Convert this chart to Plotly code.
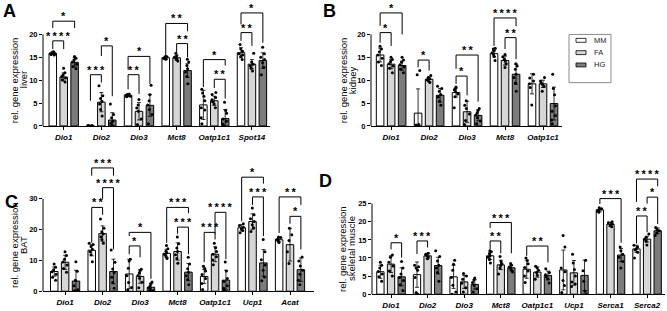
import plotly.graph_objects as go

# ---------------- DATA ----------------
groups = ["MM", "FA", "HG"]

genes_A = ["Dio1", "Dio2", "Dio3", "Mct8", "Oatp1c1", "Spot14"]
A_MM_mean = [15.9, 0.05, 6.7, 14.9, 4.6, 16.0]
A_MM_sd = [0.3, 0.05, 0.3, 0.3, 3.2, 1.1]
A_FA_mean = [10.7, 5.2, 3.2, 14.9, 5.5, 13.5]
A_FA_sd = [0.9, 2.1, 1.9, 0.6, 1.0, 1.0]
A_HG_mean = [13.9, 1.3, 4.5, 12.1, 1.6, 14.3]
A_HG_sd = [1.0, 1.6, 2.4, 1.5, 2.0, 1.7]
A_MM_pts = [[15.6, 15.8, 16.0, 16.2, 15.7, 15.9, 16.1, 15.5], [0, 0, 0, 0.1, 0, 0.1],
            [6.4, 6.6, 6.8, 7.0, 6.5, 6.9, 6.7], [14.6, 14.8, 15.0, 15.2, 14.7, 15.1, 14.9],
            [0.5, 1.8, 4.0, 5.5, 6.5, 7.2, 8.0, 3.5], [14.5, 15.2, 15.8, 16.3, 16.8, 17.8, 15.5]]
A_FA_pts = [[9.6, 10.1, 10.5, 10.8, 11.2, 11.6, 12.6], [2.2, 3.6, 4.8, 5.4, 6.0, 6.6, 8.8],
            [0.3, 1.5, 3.2, 4.6, 5.8, 3.9], [14.2, 14.6, 15.0, 15.3, 15.9, 14.8],
            [4.0, 4.8, 5.3, 5.7, 6.2, 6.9, 7.3], [12.0, 12.6, 13.1, 13.5, 14.0, 15.9]]
A_HG_pts = [[12.5, 13.0, 13.5, 14.0, 14.4, 14.8, 15.2], [0, 0.2, 0.6, 1.0, 1.8, 2.5, 4.8],
            [0.5, 2.5, 3.6, 4.6, 5.5, 6.8, 8.9], [9.2, 10.8, 11.8, 12.5, 13.2, 14.0, 14.6],
            [0, 0.4, 1.0, 1.5, 2.8, 3.4, 5.2], [11.2, 12.8, 13.8, 14.5, 15.0, 15.8, 17.2]]
# (gene, group1, group2, line level, left leg end, right leg end, stars)
A_brackets = [(0, 0, 2, 22.9, 21.4, 21.4, "*"), (0, 0, 1, 18.6, 16.8, 16.8, "****"),
              (1, 1, 2, 17.5, 15.3, 6.5, "*"), (1, 0, 1, 11.2, 5.5, 9.5, "***"),
              (2, 0, 2, 15.2, 12.3, 9.2, "*"), (2, 0, 1, 11.2, 8.0, 7.0, "**"),
              (3, 0, 2, 22.4, 15.3, 20.7, "**"), (3, 1, 2, 18.0, 16.1, 15.0, "**"),
              (4, 0, 2, 14.5, 8.5, 13.2, "*"), (4, 1, 2, 10.2, 8.3, 6.0, "**"),
              (5, 0, 2, 24.7, 22.2, 18.2, "*"), (5, 0, 1, 20.4, 18.6, 17.5, "**")]

genes_B = ["Dio1", "Dio2", "Dio3", "Mct8", "Oatp1c1"]
B_MM_mean = [15.5, 2.8, 7.3, 15.8, 9.2]
B_MM_sd = [1.5, 5.3, 1.0, 0.7, 2.2]
B_FA_mean = [13.5, 10.2, 3.1, 14.3, 9.2]
B_FA_sd = [1.0, 0.5, 2.3, 1.0, 0.8]
B_HG_mean = [13.2, 6.7, 2.3, 11.3, 4.9]
B_HG_sd = [1.0, 1.5, 1.2, 2.2, 3.6]
B_MM_pts = [[13.2, 14.0, 14.8, 15.5, 16.2, 16.8, 17.4], [0, 0, 0.2, 0.3, 11.2, 12.1],
            [4.0, 6.4, 7.0, 7.5, 7.9, 8.2, 8.5], [14.3, 15.2, 15.6, 16.0, 16.4, 16.8, 17.0],
            [4.6, 8.4, 9.2, 9.8, 10.5, 11.3]]
B_FA_pts = [[11.6, 12.6, 13.1, 13.6, 14.1, 14.5, 15.0], [9.5, 9.8, 10.1, 10.3, 10.6, 11.0],
            [0.3, 1.2, 2.6, 3.8, 4.5, 5.5], [12.8, 13.6, 14.2, 14.6, 15.1, 15.6],
            [7.6, 8.6, 9.0, 9.4, 9.8, 10.6]]
B_HG_pts = [[11.6, 12.4, 12.9, 13.4, 13.9, 14.4, 15.0], [4.5, 5.4, 6.3, 6.9, 7.6, 8.2, 8.7],
            [0.5, 1.1, 1.8, 2.4, 2.9, 3.4, 3.8], [7.6, 9.4, 10.6, 11.3, 12.4, 13.1, 13.6],
            [0.5, 1.3, 2.3, 3.2, 4.4, 6.8, 8.2, 11.3]]
B_brackets = [(0, 0, 2, 24.7, 21.9, 20.0, "*"), (0, 0, 1, 20.4, 18.2, 17.5, "*"),
              (1, 0, 1, 14.4, 12.8, 12.1, "*"), (2, 0, 2, 15.5, 12.5, 5.3, "**"),
              (2, 0, 1, 10.9, 9.2, 6.7, "*"), (3, 0, 2, 23.6, 17.5, 21.8, "****"),
              (3, 1, 2, 19.3, 16.8, 14.6, "**")]

genes_C = ["Dio1", "Dio2", "Dio3", "Mct8", "Oatp1c1", "Ucp1", "Acat"]
C_MM_mean = [6.4, 13.3, 5.6, 12.3, 4.8, 20.6, 16.7]
C_MM_sd = [1.5, 1.8, 4.8, 1.3, 2.3, 1.0, 0.7]
C_FA_mean = [9.4, 18.7, 4.8, 12.9, 12.0, 22.6, 15.1]
C_FA_sd = [2.3, 2.5, 2.2, 2.8, 2.4, 2.5, 5.3]
C_HG_mean = [3.3, 6.4, 1.3, 6.2, 3.6, 9.2, 7.0]
C_HG_sd = [3.5, 4.0, 1.2, 2.8, 3.2, 4.3, 3.8]
C_MM_pts = [[3.6, 4.5, 5.5, 6.3, 7.0, 7.8, 8.8], [9.6, 11.8, 12.8, 13.6, 14.5, 15.2, 15.6],
            [0.5, 1.2, 2.8, 5.0, 7.5, 9.8, 10.4], [10.6, 11.3, 11.9, 12.5, 13.0, 13.8, 14.8],
            [0.6, 2.5, 4.1, 5.4, 6.6, 7.4, 8.1], [19.0, 19.7, 20.3, 20.8, 21.3, 21.9],
            [15.8, 16.3, 16.7, 17.0, 17.4, 17.6]]
C_FA_pts = [[6.2, 7.4, 8.5, 9.5, 10.4, 11.6, 12.8], [15.6, 16.8, 17.7, 18.6, 19.3, 20.4, 23.4],
            [1.1, 2.9, 4.2, 5.1, 5.9, 6.6, 7.1], [9.1, 10.6, 11.8, 12.9, 14.0, 15.4, 17.6],
            [8.6, 10.1, 11.2, 12.0, 12.9, 14.1, 15.6], [19.4, 20.6, 21.6, 22.6, 23.5, 24.8, 27.0],
            [9.0, 12.8, 16.5, 18.3, 20.4]]
C_HG_pts = [[0, 0.2, 0.5, 1.8, 3.6, 6.5, 9.6], [1.0, 2.8, 4.5, 6.0, 7.2, 9.4, 13.4],
            [0, 0.2, 0.6, 1.1, 1.8, 2.5, 3.0], [2.1, 3.8, 5.0, 6.2, 7.3, 8.8, 11.0],
            [0.4, 1.0, 1.8, 3.2, 4.1, 6.6, 9.5], [3.4, 4.6, 6.8, 8.5, 10.2, 12.8, 16.8],
            [2.1, 3.6, 5.5, 6.8, 8.2, 9.8, 11.1]]
C_brackets = [(1, 0, 2, 40.0, 37.5, 37.5, "***"), (1, 1, 2, 33.6, 30.0, 13.6, "****"),
              (1, 0, 1, 27.2, 15.7, 24.8, "**"), (2, 0, 2, 19.1, 17.9, 4.0, "*"),
              (2, 0, 1, 14.7, 12.0, 11.0, "*"), (3, 0, 2, 27.2, 15.7, 25.3, "***"),
              (3, 1, 2, 20.8, 18.7, 12.0, "***"), (4, 0, 1, 19.1, 9.4, 16.8, "***"),
              (4, 1, 2, 25.6, 18.7, 10.4, "****"), (5, 0, 2, 37.0, 22.7, 34.9, "*"),
              (5, 1, 2, 30.6, 28.0, 17.9, "***"), (6, 0, 2, 30.6, 18.9, 28.0, "**"),
              (6, 1, 2, 24.3, 21.9, 13.6, "*")]

genes_D = ["Dio1", "Dio2", "Dio3", "Mct8", "Oatp1c1", "Ucp1", "Serca1", "Serca2"]
D_MM_mean = [6.2, 5.4, 4.8, 10.6, 6.9, 6.7, 23.3, 12.5]
D_MM_sd = [1.8, 3.5, 3.2, 1.0, 2.5, 5.5, 0.4, 1.0]
D_FA_mean = [8.3, 10.6, 3.4, 8.1, 6.1, 5.9, 19.3, 15.2]
D_FA_sd = [2.3, 0.7, 1.8, 1.3, 1.4, 3.4, 0.6, 0.8]
D_HG_mean = [4.8, 7.9, 2.7, 7.3, 5.2, 5.2, 10.8, 17.5]
D_HG_sd = [2.5, 2.3, 1.3, 0.8, 1.2, 4.2, 1.8, 0.8]
D_MM_pts = [[3.6, 4.8, 5.6, 6.3, 7.2, 8.0, 8.8], [0, 0.5, 4.6, 6.6, 7.2, 7.6, 8.0],
            [0, 0.6, 2.5, 4.6, 6.6, 8.3, 9.4], [8.6, 9.6, 10.2, 10.7, 11.2, 11.7, 12.0],
            [3.2, 5.0, 6.4, 7.4, 8.4, 9.3, 10.0], [0.5, 2.4, 3.8, 6.2, 7.2, 13.0, 16.2],
            [22.6, 23.0, 23.3, 23.6, 23.9], [10.0, 11.6, 12.2, 12.6, 13.0, 13.5]]
D_FA_pts = [[5.0, 6.4, 7.8, 8.8, 10.2, 10.8], [9.8, 10.3, 10.6, 11.0, 11.3],
            [0.6, 1.8, 3.0, 4.1, 5.0, 5.7], [5.6, 7.2, 7.9, 8.4, 9.0, 10.4],
            [4.1, 5.2, 6.0, 6.6, 7.3, 7.7], [2.1, 2.8, 3.4, 5.0, 6.8, 8.6, 11.0],
            [18.6, 19.0, 19.4, 19.7, 20.0], [13.6, 14.6, 15.2, 15.7, 16.6]]
D_HG_pts = [[1.0, 2.6, 3.8, 4.6, 5.6, 7.2, 9.0], [3.6, 6.0, 7.2, 8.0, 9.2, 10.4, 12.0],
            [0.6, 1.5, 2.4, 3.2, 3.9, 4.5], [6.1, 6.6, 7.1, 7.5, 8.0, 8.5],
            [3.1, 4.2, 4.8, 5.4, 6.0, 7.0], [0, 0.8, 3.6, 6.5, 9.4],
            [7.2, 9.0, 10.2, 11.0, 12.0, 13.0], [16.2, 16.9, 17.5, 17.9, 18.4]]
D_brackets = [(0, 1, 2, 14.2, 12.4, 10.1, "*"), (1, 0, 1, 14.7, 11.1, 12.9, "***"),
              (3, 0, 2, 19.8, 18.3, 11.3, "***"), (3, 0, 1, 14.7, 12.4, 11.3, "**"),
              (4, 0, 2, 13.3, 10.6, 8.8, "**"), (6, 0, 2, 26.4, 24.9, 14.2, "***"),
              (7, 0, 2, 31.8, 25.5, 29.8, "****"), (7, 1, 2, 26.8, 25.0, 19.4, "*"),
              (7, 0, 1, 21.6, 14.0, 17.1, "**")]

# ---------------- STYLE / LAYOUT ----------------
W, H = 667, 311
FONT = "Liberation Sans, Arial, sans-serif"
fills = ["#ffffff", "#d6d6d6", "#7c7c7c"]
offsets = [-0.29, 0.0, 0.29]
BARW = 0.2


def xp(px):
    return px / W


def yp(py):
    return 1 - py / H


panels = [
    dict(letter="A", letter_pos=(9, 11), genes=genes_A,
         means=[A_MM_mean, A_FA_mean, A_HG_mean], sds=[A_MM_sd, A_FA_sd, A_HG_sd],
         pts=[A_MM_pts, A_FA_pts, A_HG_pts], brackets=A_brackets, tissue="liver",
         yticks=[0, 5, 10, 15, 20], xdom=(43, 270), xrange=(-0.55, 5.48),
         y0=128, pxu=4.65, ymax=26, title_x=(14, 23)),
    dict(letter="B", letter_pos=(329, 11), genes=genes_B,
         means=[B_MM_mean, B_FA_mean, B_HG_mean], sds=[B_MM_sd, B_FA_sd, B_HG_sd],
         pts=[B_MM_pts, B_FA_pts, B_HG_pts], brackets=B_brackets, tissue="kidney",
         yticks=[0, 5, 10, 15, 20], xdom=(371, 562), xrange=(-0.53, 4.5),
         y0=128, pxu=4.65, ymax=26, title_x=(343, 352)),
    dict(letter="C", letter_pos=(11, 205), genes=genes_C,
         means=[C_MM_mean, C_FA_mean, C_HG_mean], sds=[C_MM_sd, C_FA_sd, C_HG_sd],
         pts=[C_MM_pts, C_FA_pts, C_HG_pts], brackets=C_brackets, tissue="BAT",
         yticks=[0, 10, 20, 30], xdom=(43, 314), xrange=(-0.59, 6.64),
         y0=296, pxu=3.133, ymax=44, title_x=(14, 23)),
    dict(letter="D", letter_pos=(325, 184), genes=genes_D,
         means=[D_MM_mean, D_FA_mean, D_HG_mean], sds=[D_MM_sd, D_FA_sd, D_HG_sd],
         pts=[D_MM_pts, D_FA_pts, D_HG_pts], brackets=D_brackets, tissue="skeletal muscle",
         yticks=[0, 5, 10, 15, 20, 25], xdom=(372, 665), xrange=(-0.52, 7.49),
         y0=299, pxu=3.68, ymax=35, title_x=(343, 352)),
]

fig = go.Figure()
shapes = []
annotations = []
layout_axes = {}

for i, p in enumerate(panels):
    s = "" if i == 0 else str(i + 1)
    xa, ya = "x" + s, "y" + s
    n = len(p["genes"])
    for g in range(3):
        xs = [j + offsets[g] for j in range(n)]
        fig.add_trace(go.Bar(
            x=xs, y=p["means"][g], width=BARW, xaxis=xa, yaxis=ya,
            marker=dict(color=fills[g], line=dict(color="black", width=1)),
            error_y=dict(type="data", array=p["sds"][g], color="black", thickness=0.8, width=2),
            showlegend=False, name=groups[g]))
    for g in range(3):
        bx, by = [], []
        for j in range(n):
            for v in p["pts"][g][j]:
                bx.append(j + offsets[g])
                by.append(v)
        fig.add_trace(go.Box(
            x=bx, y=by, xaxis=xa, yaxis=ya, boxpoints="all", jitter=0.7, pointpos=0,
            width=BARW, fillcolor="rgba(0,0,0,0)", line=dict(width=0, color="rgba(0,0,0,0)"),
            marker=dict(color="black", size=3), showlegend=False, name=groups[g],
            hoveron="points"))

    ytop_px = p["y0"] - p["pxu"] * p["ymax"]
    layout_axes["xaxis" + s] = dict(
        domain=[xp(p["xdom"][0]), xp(p["xdom"][1])], range=list(p["xrange"]),
        anchor=ya, tickvals=list(range(n)), ticktext=p["genes"],
        tickfont=dict(family=FONT, size=8, color="black", weight="bold", style="italic"),
        showline=True, linecolor="black", linewidth=1, ticks="outside", ticklen=3,
        tickwidth=1, tickcolor="black", showgrid=False, zeroline=False, fixedrange=True)
    layout_axes["yaxis" + s] = dict(
        domain=[yp(p["y0"]), yp(ytop_px)], range=[0, p["ymax"]], anchor=xa,
        tickvals=p["yticks"], tickfont=dict(family=FONT, size=7.5, color="black", weight="bold"),
        showline=False, ticks="outside", ticklen=3, tickwidth=1, tickcolor="black",
        showgrid=False, zeroline=False, fixedrange=True)
    # y axis line only up to the top tick
    shapes.append(dict(type="line", xref=xa + " domain", yref=ya, x0=0, x1=0,
                       y0=0, y1=p["yticks"][-1], line=dict(color="black", width=1)))
    # significance brackets
    for (j, g1, g2, yl, yleft, yright, stars) in p["brackets"]:
        x1 = j + offsets[g1]
        x2 = j + offsets[g2]
        shapes.append(dict(type="path", xref=xa, yref=ya,
                           path=f"M {x1},{yleft} L {x1},{yl} L {x2},{yl} L {x2},{yright}",
                           line=dict(color="black", width=1)))
        annotations.append(dict(x=(x1 + x2) / 2, y=yl, xref=xa, yref=ya,
                                text="<b>" + "\u2009".join(stars) + "</b>", showarrow=False,
                                yanchor="bottom", xanchor="center", yshift=-3,
                                font=dict(family=FONT, size=11, color="black")))
    # axis title (two lines)
    ymid = yp((p["y0"] + p["y0"] - p["pxu"] * p["yticks"][-1]) / 2)
    for txt, tx in zip(["rel. gene expression", p["tissue"]], p["title_x"]):
        annotations.append(dict(x=xp(tx), y=ymid, xref="paper", yref="paper", textangle=-90,
                                showarrow=False, text=txt,
                                font=dict(family=FONT, size=9.5, color="black"),
                                xanchor="center", yanchor="middle"))
    annotations.append(dict(x=xp(p["letter_pos"][0]), y=yp(p["letter_pos"][1]), xref="paper",
                            yref="paper", showarrow=False, text="<b>" + p["letter"] + "</b>",
                            font=dict(family=FONT, size=18, color="black"),
                            xanchor="center", yanchor="middle"))

# legend (drawn manually)
shapes.append(dict(type="rect", xref="paper", yref="paper", x0=xp(569), x1=xp(611),
                   y0=yp(84), y1=yp(35), line=dict(color="#8a8a8a", width=1)))
for k, (lab, col) in enumerate(zip(groups, fills)):
    cy = 41 + k * 12.5
    shapes.append(dict(type="rect", xref="paper", yref="paper", x0=xp(576), x1=xp(586),
                       y0=yp(cy + 2), y1=yp(cy - 2), fillcolor=col,
                       line=dict(color="black", width=0.8)))
    annotations.append(dict(x=xp(592), y=yp(cy), xref="paper", yref="paper", text=lab,
                            showarrow=False, xanchor="left", yanchor="middle",
                            font=dict(family=FONT, size=7.5, color="#222")))

fig.update_layout(
    width=W, height=H, margin=dict(l=0, r=0, t=0, b=0),
    paper_bgcolor="white", plot_bgcolor="rgba(0,0,0,0)",
    barmode="overlay", boxmode="overlay", showlegend=False,
    shapes=shapes, annotations=annotations, **layout_axes)

fig.write_html("out.html", config={"displayModeBar": False},
               post_script="document.body.style.margin='0';")
